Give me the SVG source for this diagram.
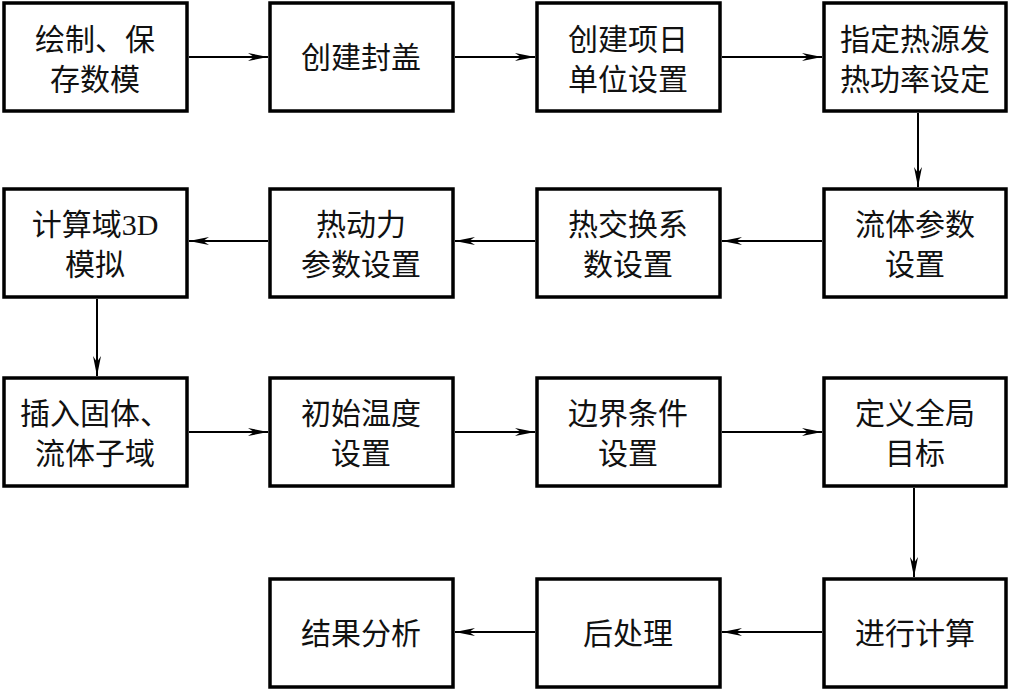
<svg xmlns="http://www.w3.org/2000/svg" width="1010" height="690" viewBox="0 0 1010 690">
<defs>
<marker id="ah" markerUnits="userSpaceOnUse" markerWidth="22" markerHeight="10" refX="20" refY="5" orient="auto">
<path d="M0,1 L20,5 L0,9 L6,5 z" fill="#000"/>
</marker>
<style>
.box{fill:#fff;stroke:#000;stroke-width:3.5}
.t{font-family:"Liberation Serif","Noto Sans CJK SC",serif;font-size:30px;text-anchor:middle;fill:#111}
.c{fill:none;stroke:#000;stroke-width:2;marker-end:url(#ah)}
</style>
</defs>
<rect width="1010" height="690" fill="#fff"/>
<g id="connectors">
<line class="c" x1="189" y1="57" x2="268" y2="57"/>
<line class="c" x1="455" y1="57" x2="535" y2="57"/>
<line class="c" x1="722" y1="57" x2="822" y2="57"/>
<line class="c" x1="918" y1="113" x2="918" y2="187"/>
<line class="c" x1="822" y1="241" x2="722" y2="241"/>
<line class="c" x1="535" y1="241" x2="455" y2="241"/>
<line class="c" x1="268" y1="241" x2="189" y2="241"/>
<line class="c" x1="97" y1="299" x2="97" y2="376"/>
<line class="c" x1="189" y1="432" x2="268" y2="432"/>
<line class="c" x1="455" y1="432" x2="535" y2="432"/>
<line class="c" x1="722" y1="432" x2="822" y2="432"/>
<line class="c" x1="914" y1="488" x2="914" y2="577"/>
<line class="c" x1="822" y1="632" x2="722" y2="632"/>
<line class="c" x1="535" y1="632" x2="455" y2="632"/>
</g>
<g id="n1"><rect class="box" x="4" y="3" width="183" height="108"/><text class="t" x="95" y="50">绘制、保</text><text class="t" x="95" y="90">存数模</text></g>
<g id="n2"><rect class="box" x="270" y="3" width="183" height="108"/><text class="t" x="361" y="68">创建封盖</text></g>
<g id="n3"><rect class="box" x="537" y="3" width="183" height="108"/><text class="t" x="628" y="50">创建项日</text><text class="t" x="628" y="90">单位设置</text></g>
<g id="n4"><rect class="box" x="824" y="3" width="182" height="108"/><text class="t" x="915" y="50">指定热源发</text><text class="t" x="915" y="90">热功率设定</text></g>
<g id="n5"><rect class="box" x="824" y="189" width="182" height="108"/><text class="t" x="915" y="235">流体参数</text><text class="t" x="915" y="275">设置</text></g>
<g id="n6"><rect class="box" x="537" y="189" width="183" height="108"/><text class="t" x="628" y="235">热交换系</text><text class="t" x="628" y="275">数设置</text></g>
<g id="n7"><rect class="box" x="270" y="189" width="183" height="108"/><text class="t" x="361" y="235">热动力</text><text class="t" x="361" y="275">参数设置</text></g>
<g id="n8"><rect class="box" x="4" y="189" width="183" height="108"/><text class="t" x="95" y="235">计算域3D</text><text class="t" x="95" y="275">模拟</text></g>
<g id="n9"><rect class="box" x="4" y="378" width="183" height="108"/><text class="t" x="95" y="424">插入固体、</text><text class="t" x="95" y="464">流体子域</text></g>
<g id="n10"><rect class="box" x="270" y="378" width="183" height="108"/><text class="t" x="361" y="424">初始温度</text><text class="t" x="361" y="464">设置</text></g>
<g id="n11"><rect class="box" x="537" y="378" width="183" height="108"/><text class="t" x="628" y="424">边界条件</text><text class="t" x="628" y="464">设置</text></g>
<g id="n12"><rect class="box" x="824" y="378" width="182" height="108"/><text class="t" x="915" y="424">定义全局</text><text class="t" x="915" y="464">目标</text></g>
<g id="n13"><rect class="box" x="824" y="579" width="182" height="108"/><text class="t" x="915" y="644">进行计算</text></g>
<g id="n14"><rect class="box" x="537" y="579" width="183" height="108"/><text class="t" x="628" y="644">后处理</text></g>
<g id="n15"><rect class="box" x="270" y="579" width="183" height="108"/><text class="t" x="361" y="644">结果分析</text></g>
</svg>
